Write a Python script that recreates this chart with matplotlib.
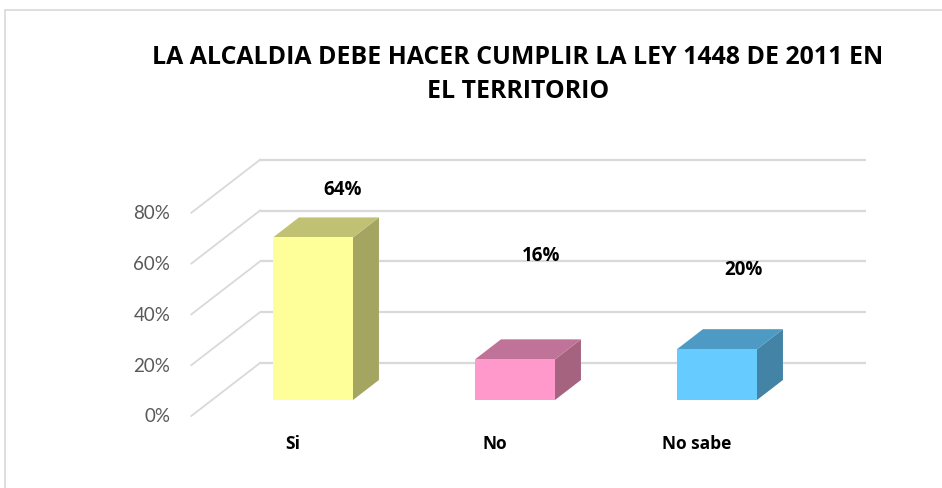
import matplotlib
matplotlib.use("Agg")
import matplotlib.pyplot as plt
from matplotlib.patches import Polygon, Rectangle

categories = ["Si", "No", "No sabe"]
values = [64, 16, 20]
value_labels = ["64%", "16%", "20%"]
tick_values = [0, 20, 40, 60, 80]
tick_labels = ["0%", "20%", "40%", "60%", "80%"]
title_lines = ["LA ALCALDIA DEBE HACER CUMPLIR LA LEY 1448 DE 2011 EN", "EL TERRITORIO"]

front_colors = ["#FFFF99", "#FF99CC", "#66CCFF"]
side_colors = ["#A5A562", "#A6637F", "#4383A6"]
top_colors = ["#C1C174", "#C07399", "#4D9BC4"]
grid_color = "#D9D9D9"
font = ["Lato", "DejaVu Sans"]
bold_font = ["Open Sans", "DejaVu Sans"]

W, H = 942, 489
PX_CAT, PX_PCT = 202, 2.54   # pixels per category step / per percent point
X0, Y0 = 313, 401            # pixel position of (first category, 0%)

# oblique projection: depth z shifts a point right and up
KX, KV = 0.238, 14.6
Z_FRONT, Z_BAR, Z_BACK = -0.43, 0.54, 1.0
HALF = 0.198


def proj(x, v, z):
    return x + KX * z, v + KV * z


fig = plt.figure(figsize=(W / 100, H / 100), dpi=100)
ax = fig.add_axes([0, 0, 1, 1])
ax.set_xlim(-X0 / PX_CAT, (W - X0) / PX_CAT)
ax.set_ylim((Y0 - H) / PX_PCT, Y0 / PX_PCT)
ax.axis("off")

# chart border
fig.patches.append(Rectangle((5 / W, -0.1), 1.2, 1.1 - 11 / H, transform=fig.transFigure,
                             fill=False, edgecolor=grid_color, linewidth=1.2))

# walls: gridlines on back wall and side wall
x_left, x_right = -0.5, len(categories) - 0.5
for t, lab in zip(tick_values, tick_labels):
    a = proj(x_left, t, Z_BACK)
    b = proj(x_right, t, Z_BACK)
    c = proj(x_left, t, Z_FRONT)
    ax.plot([a[0], b[0]], [a[1], b[1]], color=grid_color, lw=1.6, solid_capstyle="butt", zorder=1)
    ax.plot([c[0], a[0]], [c[1], a[1]], color=grid_color, lw=1.3, zorder=1)
    ax.text(c[0] - 0.104, c[1], lab, ha="right", va="center", fontsize=13.5,
            color="#595959", family=font)

# bars
for i, v in enumerate(values):
    l, r = i - HALF, i + HALF
    front = [proj(l, 0, 0), proj(r, 0, 0), proj(r, v, 0), proj(l, v, 0)]
    side = [proj(r, 0, 0), proj(r, 0, Z_BAR), proj(r, v, Z_BAR), proj(r, v, 0)]
    top = [proj(l, v, 0), proj(r, v, 0), proj(r, v, Z_BAR), proj(l, v, Z_BAR)]
    ax.add_patch(Polygon(side, closed=True, facecolor=side_colors[i], edgecolor="none", zorder=3))
    ax.add_patch(Polygon(top, closed=True, facecolor=top_colors[i], edgecolor="none", zorder=3))
    ax.add_patch(Polygon(front, closed=True, facecolor=front_colors[i], edgecolor="none", zorder=4))

# value labels (placed like the original 3D chart)
label_dx = [0.149, 0.129, 0.129]
label_y = [83, 57, 51.6]
for i, lab in enumerate(value_labels):
    ax.text(i + label_dx[i], label_y[i], lab, ha="center", va="center", fontsize=13.5,
            fontweight="bold", color="black", family=bold_font, zorder=5)

# category labels
for i, cat in enumerate(categories):
    x, _ = proj(i, 0, Z_FRONT)
    ax.text(x, -16.9, cat, ha="center", va="center", fontsize=12.5,
            fontweight="bold", color="black", family=bold_font)

# title, scaled so the first line spans the same width as the original
renderer = fig.canvas.get_renderer()
t1 = fig.text(518 / W, 1 - 57 / H, title_lines[0], ha="center", va="center",
              fontsize=16, fontweight="bold", family=bold_font)
w = t1.get_window_extent(renderer).width
size = 16 * 732 / w
t1.set_fontsize(size)
fig.text(518 / W, 1 - 92 / H, title_lines[1], ha="center", va="center",
         fontsize=size, fontweight="bold", family=bold_font)

fig.savefig("out.png", dpi=100)
